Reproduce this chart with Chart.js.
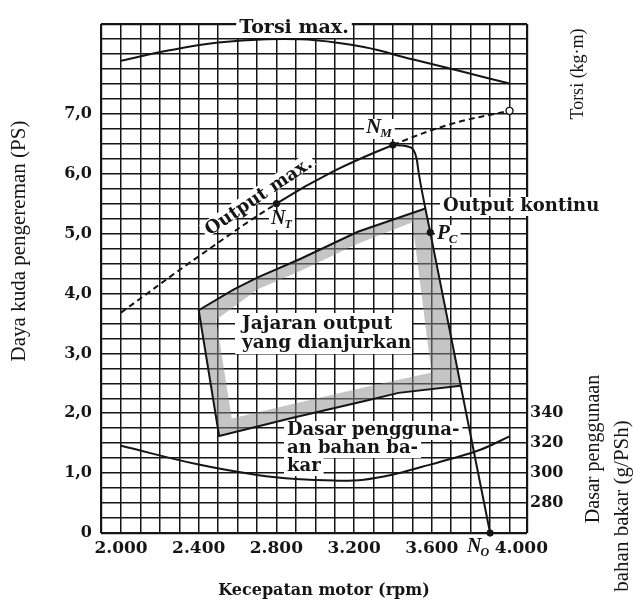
<!DOCTYPE html>
<html><head><meta charset="utf-8">
<script src="https://cdn.jsdelivr.net/npm/chart.js@4.4.1/dist/chart.umd.min.js"></script>
<style>html,body{margin:0;padding:0;background:#fff;}canvas{display:block;}</style>
</head><body>
<canvas id="c" width="633" height="603"></canvas>
<script>
// ---------------- data ----------------
const xTickLabels = [2000, 2400, 2800, 3200, 3600, 4000];      // rpm
const yTickLabels = [0, 1, 2, 3, 4, 5, 6, 7];                    // PS
const torqueTickLabels = [1.2, 1.3, 1.4];                        // kg·m
const bsfcTickLabels = [280, 300, 320, 340];                     // g/PSh

// Torsi max. (kg·m)
const torqueRpm = [2000, 2250, 2500, 2750, 3000, 3250, 3500, 3750, 4000];
const torqueKgm = [1.327, 1.362, 1.388, 1.399, 1.396, 1.373, 1.332, 1.292, 1.251];

// Output max. (PS)  dashed below N_T and above N_M
const outputMaxRpm = [2000, 2400, 2800, 3100, 3400, 3700, 4000];
const outputMaxPs  = [3.68, 4.62, 5.50, 6.05, 6.48, 6.83, 7.05];
const solidFromRpm = 2800, solidToRpm = 3400;

// governor curve N_M -> P_C -> N_O (PS)
const governorRpm = [3400, 3470, 3505, 3522, 3533, 3592, 3900];
const governorPs  = [6.48, 6.46, 6.40, 6.25, 6.00, 5.02, 0.00];

// Jajaran output yang dianjurkan : outline (TR -> top -> TL -> BL -> bottom -> BR)
const rangeRpm = [3567, 3219, 2925, 2704, 2581, 2400, 2505, 2879, 3260, 3429, 3748];
const rangePs  = [5.42, 5.03, 4.58, 4.27, 4.07, 3.72, 1.62, 1.92, 2.21, 2.34, 2.46];

// shaded band inside the outline
const bandOuterRpm = [2400, 2581, 2704, 2925, 3219, 3567, 3748, 3429, 3260, 2879, 2505, 2400];
const bandOuterPs  = [3.72, 4.07, 4.27, 4.58, 5.03, 5.42, 2.46, 2.34, 2.21, 1.92, 1.62, 3.72];
const bandInnerRpm = [2490, 2570, 2879, 3260, 3429, 3598, 3500, 3219, 2925, 2704, 2490];
const bandInnerPs  = [3.56, 1.91, 2.15, 2.44, 2.56, 2.68, 5.19, 4.83, 4.38, 4.07, 3.56];

// Dasar penggunaan bahan bakar (g/PSh)
const bsfcRpm = [2000, 2400, 2700, 2900, 3100, 3250, 3400, 3550, 3700, 3850, 4000];
const bsfcVal = [318.3, 305.7, 298.8, 296.0, 295.0, 295.6, 299.0, 304.2, 309.6, 315.6, 324.5];

// marked points N_T, N_M, P_C, N_O and the open end point
const markRpm = [2800, 3400, 3592, 3900];
const markPs  = [5.50, 6.48, 5.02, 0.00];
const endRpm = [4000];
const endPs  = [7.05];

// ---------------- chart ----------------
const INK = '#151515';
const pts = (xs, ys) => xs.map((x, i) => ({x: x, y: ys[i]}));
const band = pts(bandOuterRpm, bandOuterPs).concat(pts(bandInnerRpm, bandInnerPs));

const X_MIN = 1897, X_MAX = 4090, Y_MIN = 0, Y_MAX = 8.5;
const gridX = [X_MIN]; for (let v = 2000; v <= 4000; v += 100) gridX.push(v); gridX.push(X_MAX);
const gridY = []; for (let v = 0; v <= 8.5 + 1e-9; v += 0.25) gridY.push(+v.toFixed(2));

const serifBold = (s) => ({family: 'DejaVu Serif', size: s, weight: 'bold'});
const fmtComma = (v) => v.toFixed(1).replace('.', ',');

function gridWidth(ctx, lo, hi) {
  const v = ctx.tick ? ctx.tick.value : null;
  return (v === lo || v === hi) ? 2.2 : 1.5;
}

const annotations = {
  id: 'annotations',
  afterDatasetsDraw(chart) {
    const ctx = chart.ctx;
    ctx.save();
    const bgText = (str, x, y, font, align) => {
      ctx.font = font; ctx.textAlign = align || 'left'; ctx.textBaseline = 'middle';
      const w = ctx.measureText(str).width;
      const left = align === 'center' ? x - w / 2 : x;
      ctx.fillStyle = '#fff'; ctx.fillRect(left - 3, y - 9, w + 6, 19);
      ctx.fillStyle = INK; ctx.fillText(str, x, y);
    };
    const subText = (main, sub, x, y, size) => {
      const fm = 'italic bold ' + size + 'px "Liberation Serif"';
      const fs = 'italic bold ' + Math.round(size * 0.62) + 'px "Liberation Serif"';
      ctx.font = fm; const w1 = ctx.measureText(main).width;
      ctx.font = fs; const w2 = ctx.measureText(sub).width;
      ctx.fillStyle = '#fff'; ctx.fillRect(x - 2, y - 9, w1 + w2 + 4, 20);
      ctx.fillStyle = INK; ctx.textAlign = 'left'; ctx.textBaseline = 'middle';
      ctx.font = fm; ctx.fillText(main, x, y);
      ctx.font = fs; ctx.fillText(sub, x + w1 - 1, y + 6);
    };
    const F = 'bold 18.5px "DejaVu Serif"';
    bgText('Torsi max.', 294, 28, 'bold 19px "DejaVu Serif"', 'center');
    bgText('Output kontinu', 443, 206, 'bold 18px "DejaVu Serif"', 'left');
    // Jajaran output box
    ctx.fillStyle = '#fff'; ctx.fillRect(235, 313, 177, 41);
    ctx.font = F; ctx.fillStyle = INK; ctx.textAlign = 'left'; ctx.textBaseline = 'middle';
    ctx.fillText('Jajaran output', 242, 324);
    ctx.fillText('yang dianjurkan', 242, 343);
    const F2 = 'bold 18px "DejaVu Serif"';
    bgText('Dasar pengguna-', 287, 430, F2, 'left');
    bgText('an bahan ba-', 287, 448, F2, 'left');
    bgText('kar', 287, 466, F2, 'left');
    // Output max. rotated along the curve
    ctx.save();
    ctx.translate(259, 197); ctx.rotate(-34 * Math.PI / 180);
    ctx.font = 'bold 18px "DejaVu Serif"'; ctx.textAlign = 'center'; ctx.textBaseline = 'middle';
    const w = ctx.measureText('Output max.').width;
    ctx.fillStyle = '#fff'; ctx.fillRect(-w / 2 - 3, -10, w + 6, 15);
    ctx.fillStyle = INK; ctx.fillText('Output max.', 0, 0);
    ctx.restore();
    subText('N', 'T', 271, 219, 20);
    subText('N', 'M', 366, 128, 21);
    subText('P', 'C', 437, 234, 21);
    subText('N', 'O', 467, 547, 20);
    // axis titles
    ctx.fillStyle = INK; ctx.textAlign = 'center'; ctx.textBaseline = 'middle';
    ctx.font = 'bold 16px "DejaVu Serif"';
    ctx.fillText('Kecepatan motor (rpm)', 324, 591);
    const vText = (str, x, y, font) => {
      ctx.save(); ctx.translate(x, y); ctx.rotate(-Math.PI / 2);
      ctx.font = font; ctx.fillText(str, 0, 0); ctx.restore();
    };
    vText('Daya kuda pengereman (PS)', 19, 241, '21px "Liberation Serif"');
    vText('Torsi (kg·m)', 578, 74, '18px "Liberation Serif"');
    vText('Dasar penggunaan', 594, 449, '20px "Liberation Serif"');
    vText('bahan bakar (g/PSh)', 622, 506, '21px "Liberation Serif"');
    ctx.restore();
  }
};

new Chart(document.getElementById('c'), {
  type: 'line',
  data: {
    datasets: [
      {label: 'N marks', data: pts(markRpm, markPs), showLine: false, pointRadius: 3.2,
       pointBackgroundColor: INK, pointBorderColor: INK, clip: false},
      {label: 'end', data: pts(endRpm, endPs), showLine: false, pointRadius: 3.5,
       pointBackgroundColor: '#fff', pointBorderColor: INK, pointBorderWidth: 1.4, clip: false},
      {label: 'Torsi max.', data: pts(torqueRpm, torqueKgm), yAxisID: 'yT', borderColor: INK,
       borderWidth: 2, pointRadius: 0, tension: 0.4},
      {label: 'Output max.', data: pts(outputMaxRpm, outputMaxPs), yAxisID: 'y', borderColor: INK,
       borderWidth: 2, pointRadius: 0, tension: 0.4,
       segment: {borderDash: (c) => (c.p0.parsed.x < solidFromRpm || c.p0.parsed.x >= solidToRpm) ? [6, 4] : undefined}},
      {label: 'Governor', data: pts(governorRpm, governorPs), yAxisID: 'y', borderColor: INK,
       borderWidth: 2, pointRadius: 0, cubicInterpolationMode: 'monotone', clip: false},
      {label: 'Jajaran output', data: pts(rangeRpm, rangePs), yAxisID: 'y', borderColor: INK,
       borderWidth: 2, pointRadius: 0, tension: 0},
      {label: 'band', data: band, yAxisID: 'y', borderWidth: 0, pointRadius: 0, tension: 0,
       fill: 'shape', backgroundColor: 'rgba(140,140,140,0.5)', borderColor: 'rgba(0,0,0,0)'},
      {label: 'Dasar penggunaan bahan bakar', data: pts(bsfcRpm, bsfcVal), yAxisID: 'yB', borderColor: INK,
       borderWidth: 2, pointRadius: 0, tension: 0.4}
    ]
  },
  options: {
    responsive: false, animation: false, devicePixelRatio: 1, events: [],
    layout: {padding: {top: 24, left: 0, right: 0, bottom: 0}},
    plugins: {legend: {display: false}, tooltip: {enabled: false}},
    scales: {
      x: {
        type: 'linear', position: 'bottom', min: X_MIN, max: X_MAX,
        afterBuildTicks: (s) => { s.ticks = gridX.map(v => ({value: v})); },
        afterFit: (s) => { s.height = 70; },
        grid: {color: INK, lineWidth: (c) => gridWidth(c, X_MIN, X_MAX), drawTicks: false},
        border: {display: false},
        ticks: {autoSkip: false, maxRotation: 0, padding: 5, color: INK, font: serifBold(17),
          callback: (v) => xTickLabels.includes(v) ? (v === 4000 ? '    4.000' : (v / 1000).toFixed(3)) : ''}
      },
      y: {
        type: 'linear', position: 'left', min: Y_MIN, max: Y_MAX,
        afterBuildTicks: (s) => { s.ticks = gridY.map(v => ({value: v})); },
        afterFit: (s) => { s.width = 101; },
        grid: {color: INK, lineWidth: (c) => gridWidth(c, Y_MIN, Y_MAX), drawTicks: false},
        border: {display: false},
        ticks: {autoSkip: false, padding: 9, color: INK, font: serifBold(16),
          callback: (v) => yTickLabels.includes(v) ? (v === 0 ? '0' : fmtComma(v)) : ''}
      },
      yT: {
        type: 'linear', position: 'right', min: -0.25, max: 1.45,
        afterBuildTicks: (s) => { s.ticks = torqueTickLabels.map(v => ({value: v})); },
        afterFit: (s) => { s.width = 0; },
        grid: {display: false, drawTicks: false}, border: {display: false},
        ticks: {autoSkip: false, padding: 3, color: INK, font: serifBold(16), callback: (v) => fmtComma(v)}
      },
      yB: {
        type: 'linear', position: 'right', min: 260, max: 600,
        afterBuildTicks: (s) => { s.ticks = bsfcTickLabels.map(v => ({value: v})); },
        afterFit: (s) => { s.width = 106; },
        grid: {display: false, drawTicks: false}, border: {display: false},
        ticks: {autoSkip: false, padding: 3, color: INK, font: serifBold(16), callback: (v) => String(v)}
      }
    }
  },
  plugins: [annotations]
});
</script>
</body></html>
